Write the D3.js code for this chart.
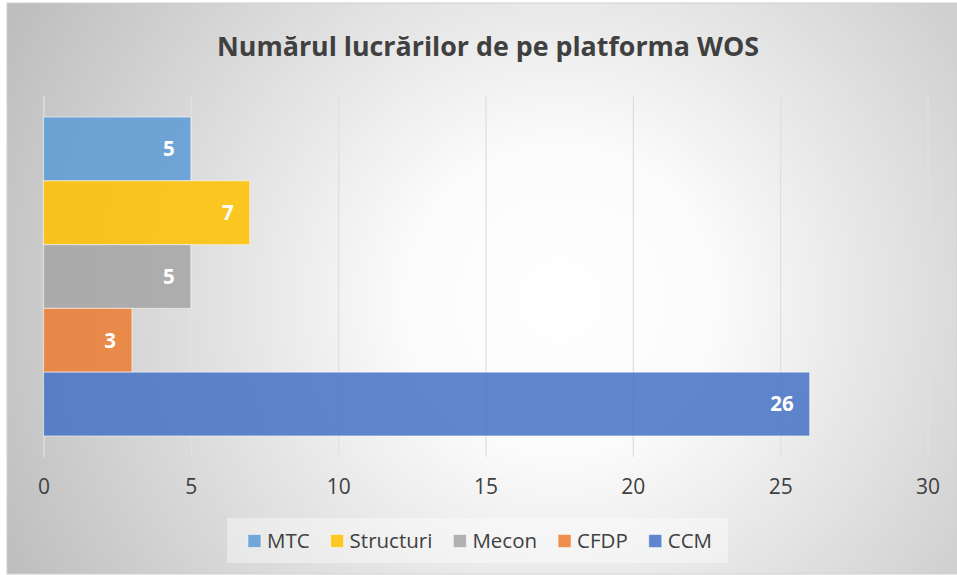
<!DOCTYPE html>
<html>
<head>
<meta charset="utf-8">
<script src="https://cdn.jsdelivr.net/npm/d3@7"></script>
<style>
  html, body { margin: 0; padding: 0; background: #fff; }
  svg { display: block; }
  text { font-family: "Open Sans", "Noto Sans", sans-serif; }
</style>
</head>
<body>
<svg id="chart" width="957" height="575"></svg>
<script>
// ---- data ----
const title = "Numărul lucrărilor de pe platforma WOS";
const series = ["MTC", "Structuri", "Mecon", "CFDP", "CCM"];
const values = [5, 7, 5, 3, 26];
const colors = ["#5b9bd5", "#ffc000", "#a5a5a5", "#ed7d31", "#4472c4"];
const xTicks = [0, 5, 10, 15, 20, 25, 30];

// ---- layout ----
const W = 957, H = 575;
const plot = { left: 43.5, right: 927.5, top: 96, bottom: 457 };
const svg = d3.select("#chart");
const defs = svg.append("defs");

const bg = defs.append("radialGradient").attr("id", "bg")
  .attr("gradientUnits", "userSpaceOnUse")
  .attr("cx", 560).attr("cy", 300).attr("r", 620)
  .attr("fx", 560).attr("fy", 300);
bg.append("stop").attr("offset", "0").attr("stop-color", "#ffffff");
bg.append("stop").attr("offset", "0.25").attr("stop-color", "#fbfbfb");
bg.append("stop").attr("offset", "1").attr("stop-color", "#bdbdbd");

const gg = defs.append("linearGradient").attr("id", "gridg")
  .attr("gradientUnits", "userSpaceOnUse")
  .attr("x1", 0).attr("y1", plot.top).attr("x2", 0).attr("y2", plot.bottom);
gg.append("stop").attr("offset", "0").attr("stop-color", "#e0e0e0");
gg.append("stop").attr("offset", "0.45").attr("stop-color", "#c0c0c0");
gg.append("stop").attr("offset", "1").attr("stop-color", "#868686");

svg.append("rect").attr("x", 7).attr("y", 3).attr("width", W - 7).attr("height", H - 4)
  .attr("fill", "url(#bg)").attr("stroke", "#d0d0d0").attr("stroke-width", 1);

// title
svg.append("text").attr("x", 488).attr("y", 56).attr("text-anchor", "middle")
  .attr("font-size", 26.8).attr("font-weight", 700).attr("fill", "#404040")
  .text(title);

// scales
const x = d3.scaleLinear().domain([0, 30]).range([plot.left, plot.right]);
const y = d3.scaleBand().domain(series).range([plot.top, plot.bottom])
  .paddingInner(0).paddingOuter(0.33);

// grid
const xAxis = d3.axisBottom(x).tickValues(xTicks).tickSize(-(plot.bottom - plot.top)).tickPadding(22);
const ax = svg.append("g").attr("transform", `translate(0,${plot.bottom})`).call(xAxis);
ax.select(".domain").remove();
ax.selectAll(".tick line").attr("stroke", "url(#gridg)").attr("stroke-width", 1.3);
ax.selectAll(".tick text").attr("font-size", 21).attr("fill", "#404040")
  .attr("font-family", "'Open Sans', sans-serif");

// bars
const rows = series.map((s, i) => ({ s, v: values[i], c: colors[i] }));
svg.append("g").selectAll("rect").data(rows).join("rect")
  .attr("x", x(0)).attr("y", d => y(d.s))
  .attr("width", d => x(d.v) - x(0)).attr("height", y.bandwidth())
  .attr("fill", d => d.c).attr("fill-opacity", 0.85)
  .attr("stroke", "#ffffff").attr("stroke-opacity", 0.45).attr("stroke-width", 1.2);

// labels
svg.append("g").selectAll("text").data(rows).join("text")
  .attr("x", d => x(d.v) - 16).attr("y", d => y(d.s) + y.bandwidth() / 2)
  .attr("dy", "0.36em").attr("text-anchor", "end")
  .attr("font-size", 20.5).attr("font-weight", 700).attr("fill", "#ffffff")
  .text(d => d.v);

// legend
const lg = svg.append("g");
const lbox = lg.append("rect").attr("x", 232).attr("y", 518).attr("width", 496).attr("height", 45)
  .attr("fill", "#ffffff").attr("fill-opacity", 0.4);
const items = lg.selectAll("g.item").data(rows).join("g").attr("class", "item");
items.append("rect").attr("width", 13).attr("height", 13).attr("y", 534.5)
  .attr("fill", d => d.c).attr("fill-opacity", 0.85)
  .attr("stroke", "#fff").attr("stroke-opacity", 0.5);
items.append("text").attr("y", 541).attr("dy", "0.36em")
  .attr("font-size", 20.5).attr("fill", "#404040").text(d => d.s);
let cx = 0;
const pos = [];
items.each(function() {
  const tw = d3.select(this).select("text").node().getComputedTextLength();
  pos.push(cx);
  cx += 13 + 6 + tw + 21;
});
const total = cx - 21;
const start = 480 - total / 2;
items.each(function(d, i) {
  const g = d3.select(this);
  g.select("rect").attr("x", start + pos[i]);
  g.select("text").attr("x", start + pos[i] + 19);
});
lbox.attr("x", start - 21).attr("width", total + 37);
</script>
</body>
</html>
